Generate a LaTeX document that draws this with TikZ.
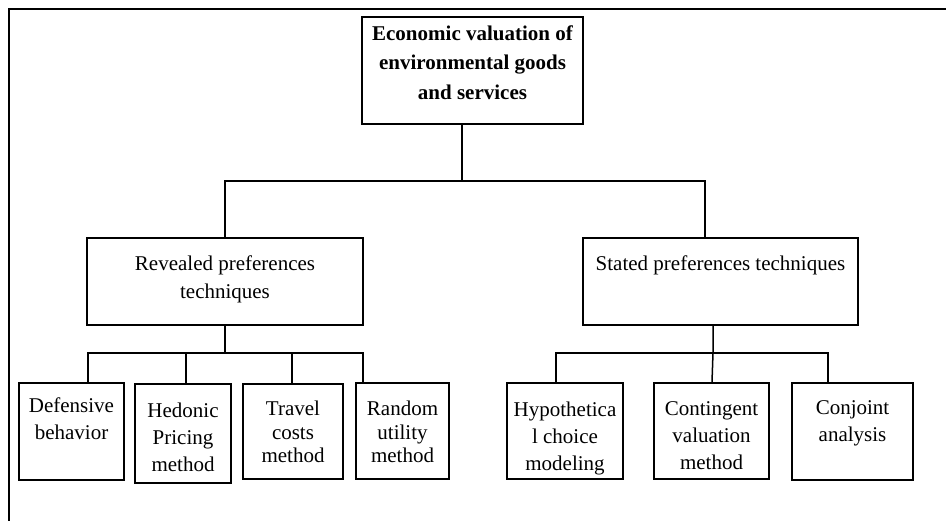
\documentclass[tikz,border=0pt]{standalone}
\usepackage{fontspec}
\setmainfont{Liberation Serif}
\usetikzlibrary{positioning}

\begin{document}
\begin{tikzpicture}[x=1pt,y=-1pt]
\tikzset{
  techbox/.style={draw,line width=2.4pt,inner sep=0pt,align=center,font=\fontsize{21}{28}\selectfont},
  leafbox/.style={techbox,font=\fontsize{21}{27}\selectfont},
  tightbox/.style={techbox,font=\fontsize{21}{23.5}\selectfont},
  link/.style={line width=1.5pt},
  frame/.style={line width=2pt}
}
\useasboundingbox (0,0) rectangle (946,521);
% outer frame (top and left only)
\draw[frame] (946,9) -- (9,9) -- (9,521);
\node[techbox,minimum width=221,minimum height=107,text depth=16pt,font=\fontsize{21}{29.5}\selectfont\bfseries] (n_top) at (472.5,70.5) {Economic valuation of\\environmental goods\\and services};
\node[techbox,minimum width=276,minimum height=87,text depth=8.6pt] (n_rev) at (225,281.5) {Revealed preferences\\techniques};
\node[techbox,minimum width=275,minimum height=87,text depth=37pt] (n_sta) at (720.5,281.5) {Stated preferences techniques};
\node[leafbox,minimum width=105,minimum height=97,text depth=26pt] (n_def) at (71.5,431.5) {Defensive\\behavior};
\node[leafbox,minimum width=96,minimum height=99,text height=77pt] (n_hed) at (183,433.5) {Hedonic\\Pricing\\method};
\node[tightbox,minimum width=100,minimum height=95,text height=63pt] (n_tra) at (293,431.5) {Travel\\costs\\method};
\node[tightbox,minimum width=93,minimum height=96,text height=64pt] (n_ran) at (402.5,431) {Random\\utility\\method};
\node[leafbox,minimum width=116,minimum height=96,text height=82.6pt] (n_hyp) at (565,431) {Hypothetica\\l choice\\modeling};
\node[leafbox,minimum width=115,minimum height=96,text height=78pt] (n_con) at (711.5,431) {Contingent\\valuation\\method};
\node[leafbox,minimum width=121,minimum height=97,text depth=20.6pt] (n_cnj) at (852.5,431.5) {Conjoint\\analysis};
\coordinate (b_top) at (462,181);
\coordinate (b_sta) at (705,181);
\coordinate (b_rev) at (225,353);
\coordinate (b_sp) at (713,353);
\draw[link] (n_top.south -| b_top) -- (b_top);
\draw[link] (n_rev.north) |- (b_sta) -- (n_sta.north -| b_sta);
\draw[link] (n_rev.south) -- (b_rev);
\draw[link] ([xshift=16.5]n_def.north) |- (b_rev) -| ([xshift=-39.5]n_ran.north);
\draw[link] ([xshift=3]n_hed.north) -- +(0,-30);
\draw[link] ([xshift=-1]n_tra.north) -- +(0,-30);
\draw[link] (n_sta.south -| b_sp) -- (b_sp) -- ([xshift=0.5]n_con.north);
\draw[link] ([xshift=-9]n_hyp.north) |- (b_sp) -| ([xshift=-24.5]n_cnj.north);
\end{tikzpicture}
\end{document}
